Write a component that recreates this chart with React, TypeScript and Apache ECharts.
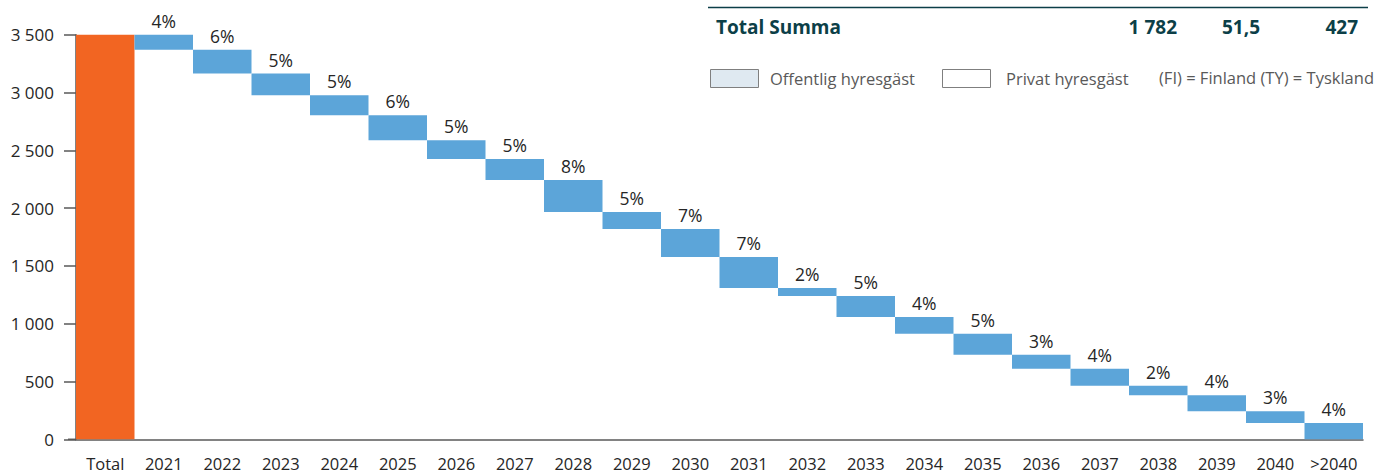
import React, { useEffect, useRef } from "react";
import * as echarts from "echarts";

const categories = ["Total", "2021", "2022", "2023", "2024", "2025", "2026", "2027", "2028", "2029", "2030", "2031", "2032", "2033", "2034", "2035", "2036", "2037", "2038", "2039", "2040", ">2040"];
const totalValue = 3507;
const yearDeltas = [138, 205, 188, 173, 216, 162, 182, 277, 147, 242, 268, 69, 182, 144, 182, 121, 147, 84, 138, 101, 141];
const percentLabels = ["4%", "6%", "5%", "5%", "6%", "5%", "5%", "8%", "5%", "7%", "7%", "2%", "5%", "4%", "5%", "3%", "4%", "2%", "4%", "3%", "4%"];
const yTicks = { min: 0, max: 3500, interval: 500 };
const summaryTitle = "Total Summa";
const summaryValues = ["1 782", "51,5", "427"];
const legendItems = ["Offentlig hyresgäst", "Privat hyresgäst"];
const noteText = "(FI) = Finland (TY) = Tyskland";

const FONT = "'Open Sans', 'Noto Sans', sans-serif";
const TEAL = "#0c3f48";
const ORANGE = "#f26522";
const BLUE = "#5ca5d9";

export default function App() {
  const ref = useRef<HTMLDivElement>(null);
  useEffect(() => {
    if (!ref.current) return;
    const chart = echarts.init(ref.current, null, { renderer: "svg" });

    const bases: number[] = [0];
    const values: any[] = [{ value: totalValue, itemStyle: { color: ORANGE }, label: { show: false } }];
    let remaining = totalValue;
    yearDeltas.forEach((d, i) => {
      remaining -= d;
      bases.push(remaining);
      values.push({ value: d, label: { show: true, formatter: percentLabels[i] } });
    });

    const fmt = (v: number) => String(v).replace(/\B(?=(\d{3})+(?!\d))/g, " ");

    chart.setOption({
      animation: false,
      grid: { left: 76, right: 16, top: 34.7, bottom: 35.7, containLabel: false },
      xAxis: {
        type: "category",
        data: categories,
        axisLine: { show: true, lineStyle: { color: "#595959", width: 1.5 } },
        axisTick: { show: false },
        axisLabel: { color: "#262626", fontSize: 16.5, lineHeight: 16, fontFamily: FONT, margin: 16, interval: 0 },
      },
      yAxis: {
        type: "value",
        min: yTicks.min,
        max: yTicks.max,
        interval: yTicks.interval,
        axisLine: { show: true, lineStyle: { color: "#595959", width: 1.5 } },
        axisTick: { show: true, length: 12, lineStyle: { color: "#595959", width: 1.5 } },
        axisLabel: { color: "#262626", fontSize: 17, fontFamily: FONT, margin: 22, formatter: fmt },
        splitLine: { show: false },
      },
      series: [
        {
          type: "bar",
          stack: "w",
          data: bases,
          itemStyle: { color: "transparent" },
          barCategoryGap: "0%",
          silent: true,
        },
        {
          type: "bar",
          stack: "w",
          data: values,
          itemStyle: { color: BLUE },
          barCategoryGap: "0%",
          label: {
            show: true,
            position: "top",
            distance: 5,
            color: "#262626",
            fontSize: 17.5,
            fontFamily: FONT,
          },
        },
      ],
      graphic: [
        { type: "line", shape: { x1: 68, y1: 439.3, x2: 76, y2: 439.3 }, style: { stroke: "#595959", lineWidth: 1.5 } },
        { type: "line", shape: { x1: 708, y1: 7.5, x2: 1368, y2: 7.5 }, style: { stroke: TEAL, lineWidth: 1.5 } },
        { type: "text", x: 716, y: 27, style: { text: summaryTitle, fill: TEAL, font: `bold 19px ${FONT}`, verticalAlign: "middle", align: "left" } },
        { type: "text", x: 1177, y: 27, style: { text: summaryValues[0], fill: TEAL, font: `bold 19px ${FONT}`, verticalAlign: "middle", align: "right" } },
        { type: "text", x: 1260, y: 27, style: { text: summaryValues[1], fill: TEAL, font: `bold 19px ${FONT}`, verticalAlign: "middle", align: "right" } },
        { type: "text", x: 1358, y: 27, style: { text: summaryValues[2], fill: TEAL, font: `bold 19px ${FONT}`, verticalAlign: "middle", align: "right" } },
        { type: "rect", shape: { x: 710.5, y: 69.5, width: 48, height: 18 }, style: { fill: "#dfe9f1", stroke: "#7f7f7f", lineWidth: 1 } },
        { type: "text", x: 770, y: 78, style: { text: legendItems[0], fill: "#595959", font: `16.5px ${FONT}`, verticalAlign: "middle", align: "left" } },
        { type: "rect", shape: { x: 942.5, y: 69.5, width: 48, height: 18 }, style: { fill: "#ffffff", stroke: "#7f7f7f", lineWidth: 1 } },
        { type: "text", x: 1006, y: 78, style: { text: legendItems[1], fill: "#595959", font: `16.5px ${FONT}`, verticalAlign: "middle", align: "left" } },
        { type: "text", x: 1159, y: 77, style: { text: noteText, fill: "#595959", font: `16.5px ${FONT}`, verticalAlign: "middle", align: "left" } },
      ],
    });
    return () => chart.dispose();
  }, []);

  return <div ref={ref} style={{ position: "fixed", left: 0, top: 0, width: 1379, height: 475, background: "#fff" }} />;
}
